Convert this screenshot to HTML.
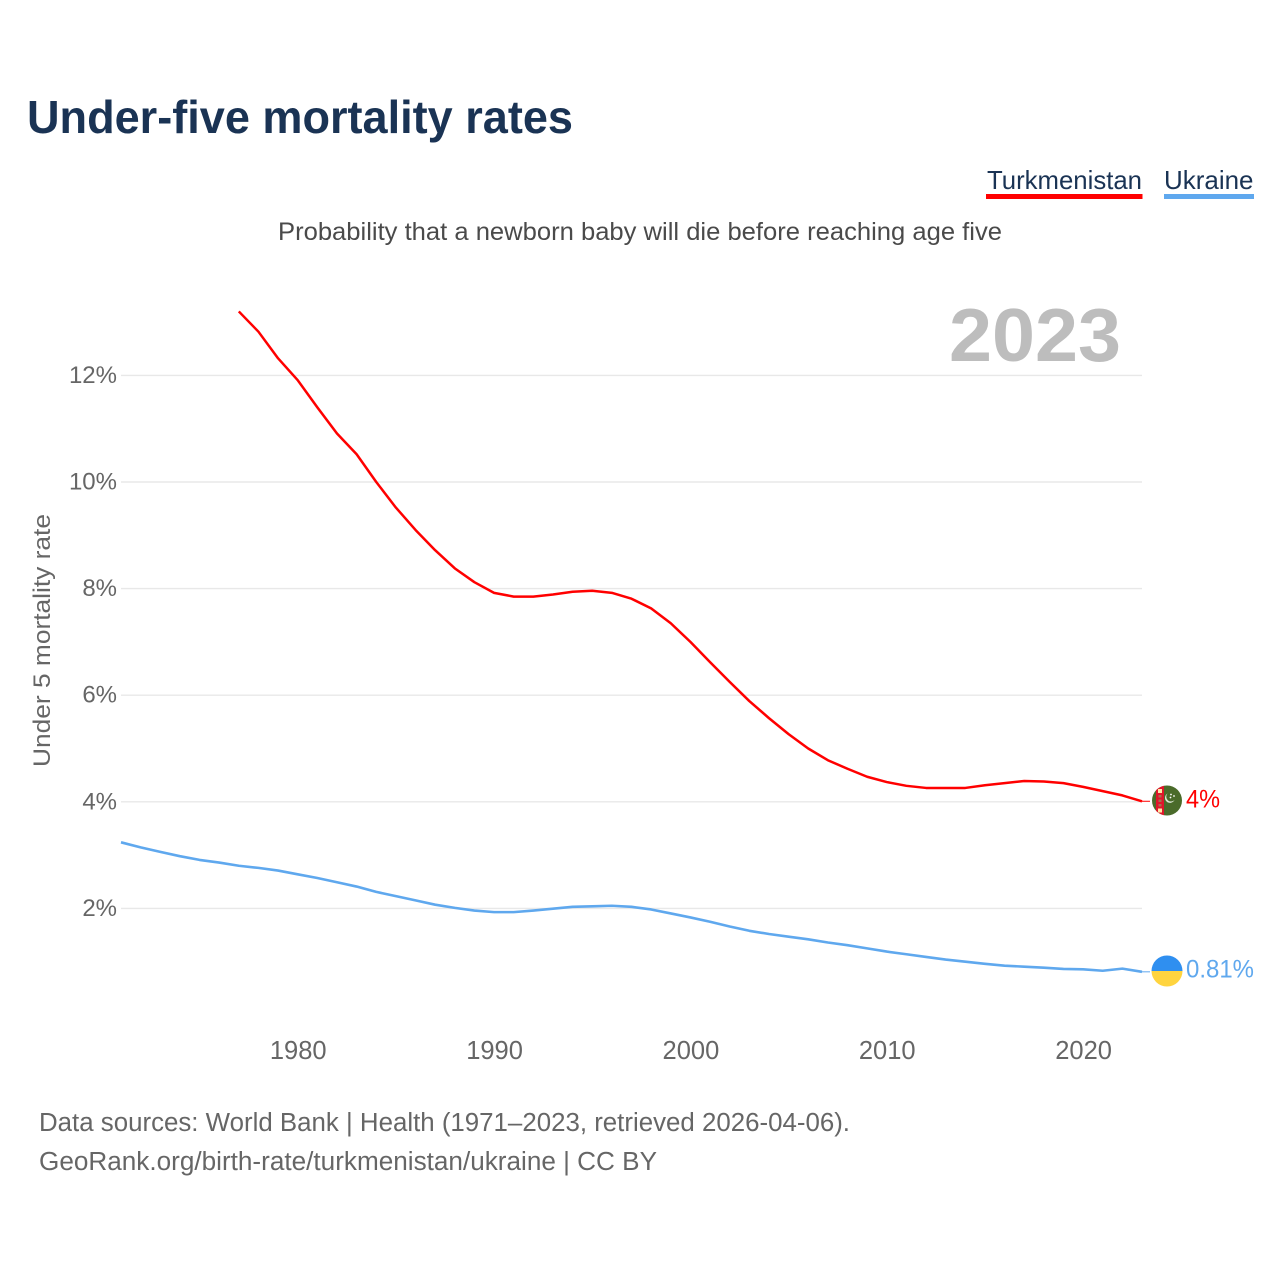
<!DOCTYPE html>
<html lang="en">
<head>
<meta charset="utf-8">
<title>Under-five mortality rates</title>
<style>
  html, body { margin: 0; padding: 0; background: #fff; width: 1280px; height: 1280px; overflow: hidden; }
  svg { display: block; font-family: "Liberation Sans", sans-serif; }
</style>
</head>
<body>
<svg id="chart" xmlns="http://www.w3.org/2000/svg" width="1280" height="1280" viewBox="0 0 1280 1280">
  <rect width="1280" height="1280" fill="#fff"/>
  <text x="27" y="133" font-size="46" font-weight="700" fill="#1a3354" textLength="546" lengthAdjust="spacingAndGlyphs">Under-five mortality rates</text>

  <g>
    <text x="987" y="189" font-size="26" fill="#1a3354" textLength="155" lengthAdjust="spacingAndGlyphs">Turkmenistan</text>
    <rect x="986" y="194" width="156.5" height="5" fill="#ff0000"/>
  </g>
  <g>
    <text x="1164" y="189" font-size="26" fill="#1a3354" textLength="89.5" lengthAdjust="spacingAndGlyphs">Ukraine</text>
    <rect x="1164" y="194" width="90" height="5" fill="#5fa8ee"/>
  </g>

  <text x="278" y="240" font-size="25" fill="#4a4a4a" textLength="724" lengthAdjust="spacingAndGlyphs">Probability that a newborn baby will die before reaching age five</text>

  <g id="grid"></g>
  <g id="yticks"></g>
  <g id="xticks"></g>

  <text transform="translate(50,767) rotate(-90)" x="0" y="0" font-size="24" fill="#666" textLength="253" lengthAdjust="spacingAndGlyphs">Under 5 mortality rate</text>

  <text x="949" y="361" font-size="75" font-weight="700" fill="#bdbdbd" textLength="172" lengthAdjust="spacingAndGlyphs">2023</text>

  <g id="series"></g>

  <g id="flag-tm">
    <clipPath id="tm-clip"><circle cx="1167" cy="800.5" r="15"/></clipPath>
    <g clip-path="url(#tm-clip)">
      <rect x="1150" y="785" width="34" height="31" fill="#4a6b2a"/>
      <rect x="1156" y="785" width="8" height="31" fill="#e0162b"/>
      <rect x="1158" y="789" width="4" height="4" fill="#ffe9a8"/>
      <rect x="1158" y="808.5" width="4" height="4" fill="#ffe9a8"/>
      <rect x="1158.5" y="795" width="3" height="2.5" fill="#a8704f"/>
      <rect x="1158.5" y="799.5" width="3" height="2.5" fill="#a8704f"/>
      <rect x="1158.5" y="804" width="3" height="2.5" fill="#a8704f"/>
      <path d="M1167.5 793.5 a5 5 0 1 0 7 6.5 a4.2 4.2 0 1 1 -7 -6.5z" fill="#dfe8d8"/>
      <circle cx="1171" cy="794.5" r="0.9" fill="#fff"/>
      <circle cx="1174" cy="796" r="0.9" fill="#fff"/>
      <circle cx="1170.5" cy="797.5" r="0.9" fill="#fff"/>
    </g>
  </g>
  <g id="flag-ua">
    <path d="M1151.5 971 a15.5 15.5 0 0 1 31 0z" fill="#2f8ff0"/>
    <path d="M1151.5 971 a15.5 15.5 0 0 0 31 0z" fill="#ffd43f"/>
  </g>

  <text x="1186" y="807.5" font-size="25" fill="#ff0000" textLength="34" lengthAdjust="spacingAndGlyphs">4%</text>
  <text x="1186" y="977.5" font-size="25" fill="#5fa8ee" textLength="68" lengthAdjust="spacingAndGlyphs">0.81%</text>

  <text x="39" y="1131" font-size="25.5" fill="#666" textLength="811" lengthAdjust="spacingAndGlyphs">Data sources: World Bank | Health (1971–2023, retrieved 2026-04-06).</text>
  <text x="39" y="1170" font-size="25.5" fill="#666" textLength="618" lengthAdjust="spacingAndGlyphs">GeoRank.org/birth-rate/turkmenistan/ukraine | CC BY</text>
</svg>

<script>
var yTickValues = [2, 4, 6, 8, 10, 12];
var xTickValues = [1980, 1990, 2000, 2010, 2020];
var turkmenistanStartYear = 1977;
var turkmenistanValues = [13.2, 12.82, 12.32, 11.91, 11.4, 10.91, 10.52, 10.0, 9.52, 9.1, 8.72, 8.38, 8.12, 7.92, 7.85, 7.85, 7.89, 7.94, 7.96, 7.92, 7.81, 7.63, 7.35, 7.0, 6.62, 6.25, 5.89, 5.57, 5.27, 5.0, 4.78, 4.62, 4.47, 4.37, 4.3, 4.26, 4.26, 4.26, 4.31, 4.35, 4.39, 4.38, 4.35, 4.28, 4.2, 4.12, 4.01];
var ukraineStartYear = 1971;
var ukraineValues = [3.24, 3.145, 3.06, 2.98, 2.91, 2.86, 2.8, 2.76, 2.71, 2.64, 2.57, 2.49, 2.41, 2.31, 2.23, 2.15, 2.07, 2.01, 1.96, 1.93, 1.93, 1.96, 1.995, 2.03, 2.04, 2.05, 2.03, 1.98, 1.905, 1.83, 1.75, 1.66, 1.58, 1.52, 1.47, 1.42, 1.36, 1.31, 1.25, 1.19, 1.14, 1.09, 1.04, 1.0, 0.96, 0.925, 0.907, 0.888, 0.865, 0.857, 0.83, 0.87, 0.81];

var NS = 'http://www.w3.org/2000/svg';
function xScale(year) { return 121 + (year - 1971) * (1142 - 121) / (2023 - 1971); }
function yScale(v) { return 1015 - v * 53.3; }

var grid = document.getElementById('grid');
var yticks = document.getElementById('yticks');
var xticks = document.getElementById('xticks');
var series = document.getElementById('series');

yTickValues.forEach(function (v) {
  var line = document.createElementNS(NS, 'line');
  
  
  line.setAttribute('x1', xScale(1971));
  line.setAttribute('x2', xScale(2023));
  line.setAttribute('y1', yScale(v));
  line.setAttribute('y2', yScale(v));
  line.setAttribute('stroke', '#e8e8e8');
  line.setAttribute('stroke-width', '1.4');
  grid.appendChild(line);

  var label = document.createElementNS(NS, 'text');
  
  
  label.setAttribute('x', 117);
  label.setAttribute('y', yScale(v) + 7.5);
  label.setAttribute('text-anchor', 'end');
  label.setAttribute('font-size', '24');
  label.setAttribute('fill', '#666');
  label.textContent = v + '%';
  yticks.appendChild(label);
});

xTickValues.forEach(function (year) {
  var label = document.createElementNS(NS, 'text');
  
  
  label.setAttribute('x', xScale(year) + 0.5);
  label.setAttribute('y', 1059);
  label.setAttribute('text-anchor', 'middle');
  label.setAttribute('font-size', '25.5');
  label.setAttribute('fill', '#666');
  label.textContent = year;
  xticks.appendChild(label);
});

function pathFor(values, startYear) {
  return values.map(function (v, i) {
    return (i ? 'L' : 'M') + xScale(startYear + i).toFixed(2) + ' ' + yScale(v).toFixed(2);
  }).join(' ');
}

var turkmenistanLine = document.createElementNS(NS, 'path');


turkmenistanLine.setAttribute('d', pathFor(turkmenistanValues, turkmenistanStartYear));
turkmenistanLine.setAttribute('fill', 'none');
turkmenistanLine.setAttribute('stroke', '#ff0000');
turkmenistanLine.setAttribute('stroke-width', '2.5');
turkmenistanLine.setAttribute('stroke-linejoin', 'round');
series.appendChild(turkmenistanLine);

var ukraineLine = document.createElementNS(NS, 'path');


ukraineLine.setAttribute('d', pathFor(ukraineValues, ukraineStartYear));
ukraineLine.setAttribute('fill', 'none');
ukraineLine.setAttribute('stroke', '#5fa8ee');
ukraineLine.setAttribute('stroke-width', '2.6');
ukraineLine.setAttribute('stroke-linejoin', 'round');
series.appendChild(ukraineLine);

var turkmenistanConnector = document.createElementNS(NS, 'line');


turkmenistanConnector.setAttribute('x1', xScale(2023));
turkmenistanConnector.setAttribute('x2', xScale(2023) + 8);
turkmenistanConnector.setAttribute('y1', yScale(turkmenistanValues[turkmenistanValues.length - 1]));
turkmenistanConnector.setAttribute('y2', yScale(turkmenistanValues[turkmenistanValues.length - 1]));
turkmenistanConnector.setAttribute('stroke', '#ff0000');
turkmenistanConnector.setAttribute('stroke-width', '1');
series.appendChild(turkmenistanConnector);

var ukraineConnector = document.createElementNS(NS, 'line');


ukraineConnector.setAttribute('x1', xScale(2023));
ukraineConnector.setAttribute('x2', xScale(2023) + 8);
ukraineConnector.setAttribute('y1', yScale(ukraineValues[ukraineValues.length - 1]));
ukraineConnector.setAttribute('y2', yScale(ukraineValues[ukraineValues.length - 1]));
ukraineConnector.setAttribute('stroke', '#5fa8ee');
ukraineConnector.setAttribute('stroke-width', '1');
series.appendChild(ukraineConnector);
</script>
</body>
</html>
